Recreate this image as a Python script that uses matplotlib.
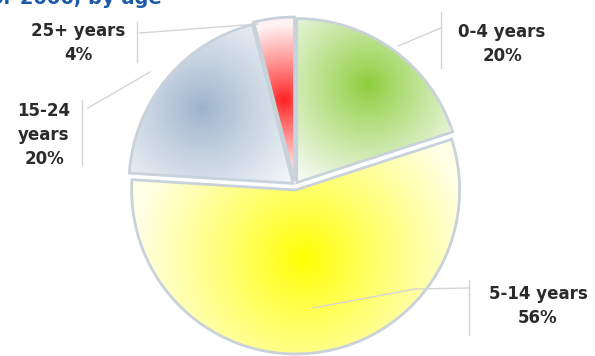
import numpy as np
import matplotlib.pyplot as plt
from matplotlib.colors import to_rgb

# Age groups and their share (%)
age_groups = ['0-4 years', '5-14 years', '15-24 years', '25+ years']
share = [20, 56, 20, 4]
label_texts = ['0-4 years\n20%', '5-14 years\n56%', '15-24\nyears\n20%', '25+ years\n4%']

W, H = 595, 356

# style per slice: hot colour, pale colour, fade radius, gradient position
hot = ['#8ccd3a', '#ffff00', '#9db3cb', '#ff2020']
pale = ['#f6fbf3', '#ffffe6', '#f4f7fa', '#fff2f2']
fade = [115, 170, 115, 75]
pos = [0.74, 0.42, 0.72, 0.5]
explode = [3, 5, 2.5, 4]  # pixels


def py(y):
    # pixel y (from top) -> data y
    return H - y


fig = plt.figure(figsize=(W / 100, H / 100), dpi=100)
ax = fig.add_axes([0, 0, 1, 1])

wedges, _ = ax.pie(share, explode=explode, radius=164, center=(295, py(185)),
                   startangle=90, counterclock=False,
                   wedgeprops=dict(facecolor='none', edgecolor='#c8d2da', linewidth=2, zorder=3))
ax.axis('off')

# radial gradient fill, clipped to each wedge
X, Y = np.meshgrid(np.arange(W) + 0.5, np.arange(H) + 0.5)
for i, w in enumerate(wedges):
    mid = np.deg2rad((w.theta1 + w.theta2) / 2)
    gx = w.center[0] + pos[i] * w.r * np.cos(mid)
    gy = w.center[1] + pos[i] * w.r * np.sin(mid)
    d = np.hypot(X - gx, Y - gy)
    t = np.clip(d / fade[i], 0, 1) ** 0.9
    c0 = np.array(to_rgb(hot[i]))
    c1 = np.array(to_rgb(pale[i]))
    img = c0 * (1 - t[..., None]) + c1 * t[..., None]
    im = ax.imshow(img, extent=(0, W, 0, H), origin='lower', zorder=2, interpolation='bilinear')
    im.set_clip_path(w)
ax.set_xlim(0, W)
ax.set_ylim(0, H)

# labels
label_pos = [(502, 44), (538, 306), (44, 135), (78, 43)]
for txt, (x, y) in zip(label_texts, label_pos):
    ax.text(x, py(y), txt, ha='center', va='center', fontsize=12, fontweight='bold',
            color='#2b2b2b', linespacing=1.4, zorder=5)

# leader lines (light gray)
lc = '#d4d4d4'
ax.plot([441, 441], [py(12), py(68)], color=lc, lw=1)
ax.plot([441, 398], [py(28), py(46)], color=lc, lw=1)
ax.plot([469, 469], [py(280), py(335)], color=lc, lw=1)
ax.plot([469, 415, 313], [py(288), py(289), py(308)], color=lc, lw=1, zorder=4)
ax.plot([82, 82], [py(100), py(165)], color=lc, lw=1)
ax.plot([88, 150], [py(108), py(72)], color=lc, lw=1)
ax.plot([137, 137], [py(22), py(62)], color=lc, lw=1)
ax.plot([140, 258], [py(33), py(24)], color=lc, lw=1)

# title, cut off at the top
ax.text(-10, py(4), 'or 2006, by age', color='#1c5aa6', fontsize=14, fontweight='bold',
        va='baseline', ha='left')

fig.savefig('out.png', dpi=100)
